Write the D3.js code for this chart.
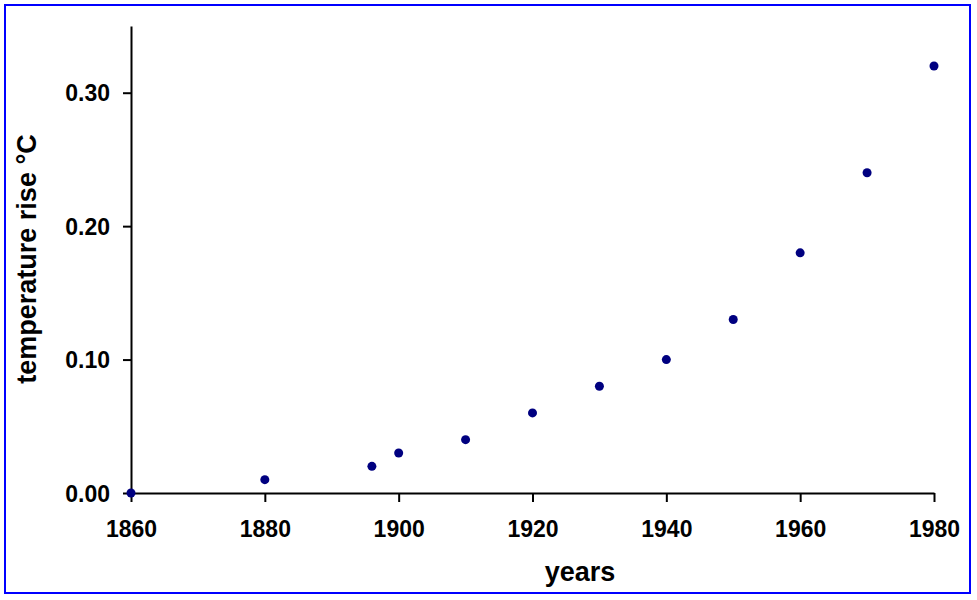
<!DOCTYPE html>
<html><head><meta charset="utf-8">
<script src="https://cdn.jsdelivr.net/npm/d3@7"></script>
<style>
html,body{margin:0;padding:0;background:#fff;}
text{font-family:"Liberation Sans",Arial,sans-serif;font-weight:bold;fill:#000;}
</style></head>
<body>
<svg id="c" width="977" height="600"></svg>
<script>
const years = [1860, 1880, 1896, 1900, 1910, 1920, 1930, 1940, 1950, 1960, 1970, 1980];
const rise = [0.00, 0.01, 0.02, 0.03, 0.04, 0.06, 0.08, 0.10, 0.13, 0.18, 0.24, 0.32];
const xTicks = [1860, 1880, 1900, 1920, 1940, 1960, 1980];
const yTicks = [0.00, 0.10, 0.20, 0.30];

const svg = d3.select("#c");
svg.append("rect").attr("x",5).attr("y",5).attr("width",965).attr("height",588)
  .attr("fill","#fff").attr("stroke","#0000ff").attr("stroke-width",2);

const x = d3.scaleLinear().domain([1860,1980]).range([131,934]);
const y = d3.scaleLinear().domain([0,0.35]).range([493,26]);

const xAxis = svg.append("g").attr("transform","translate(0,493)")
  .call(d3.axisBottom(x).tickValues(xTicks).tickFormat(d3.format("d")).tickSize(9).tickSizeOuter(0).tickPadding(19));
const yAxis = svg.append("g").attr("transform","translate(131,0)")
  .call(d3.axisLeft(y).tickValues(yTicks).tickFormat(d3.format(".2f")).tickSize(8).tickSizeOuter(0).tickPadding(13));
[xAxis,yAxis].forEach(g=>{
  g.select(".domain").attr("stroke","#000").attr("stroke-width",2);
  g.selectAll(".tick line").attr("stroke","#000").attr("stroke-width",2);
  g.selectAll(".tick text").attr("font-size",23).attr("font-family","Liberation Sans, Arial, sans-serif").attr("font-weight","bold").attr("fill","#000");
});
yAxis.selectAll(".tick text").attr("dy","0.36em");

svg.append("g").selectAll("circle").data(years).join("circle")
  .attr("cx",(d)=>x(d)).attr("cy",(d,i)=>y(rise[i])).attr("r",4.5).attr("fill","#000080");

svg.append("text").attr("x",580).attr("y",581).attr("text-anchor","middle").attr("font-size",27).text("years");
svg.append("text").attr("transform","translate(36,259) rotate(-90)").attr("text-anchor","middle").attr("font-size",27).text("temperature rise °C");
</script>
</body></html>
